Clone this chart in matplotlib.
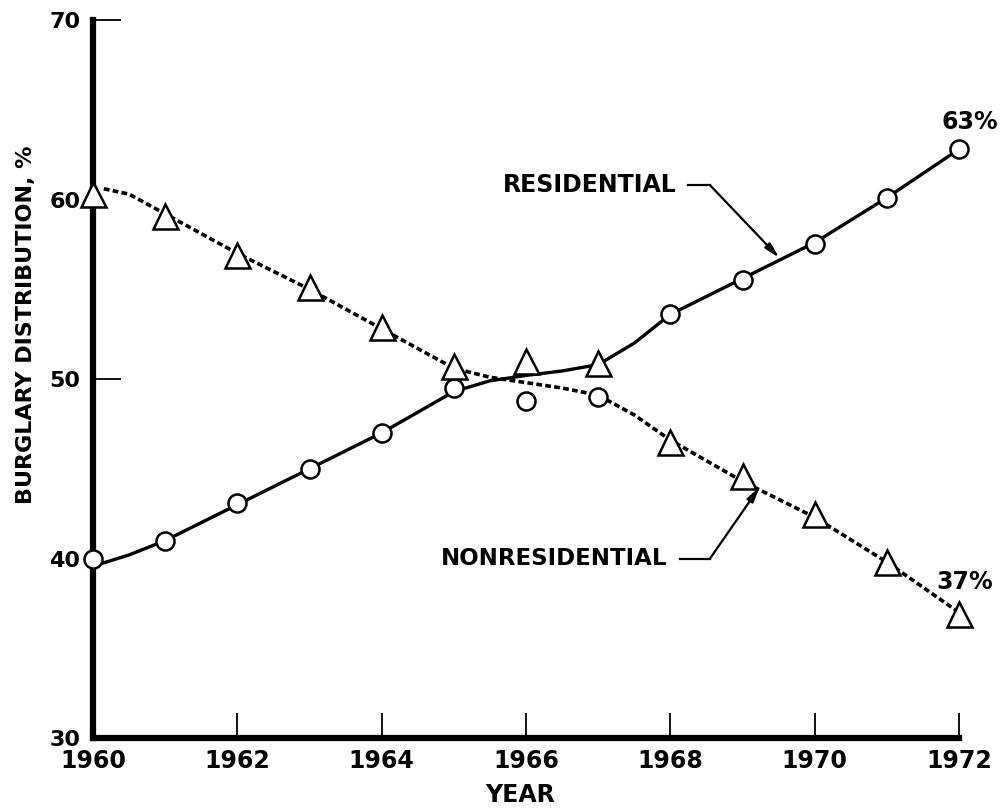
import numpy as np
import matplotlib.pyplot as plt

# marker values
years = np.arange(1960, 1973)
residential = [40.0, 41.0, 43.1, 45.0, 47.0, 49.5, 48.8, 49.0, 53.6, 55.5, 57.5, 60.1, 62.8]
nonresidential = [60.3, 59.1, 56.9, 55.1, 52.9, 50.7, 51.0, 50.9, 46.5, 44.6, 42.5, 39.8, 36.9]

# hand drawn trend curves
res_curve_x = [1960.1, 1960.5, 1961, 1962, 1963, 1964, 1965, 1965.5, 1966, 1966.5, 1967, 1967.5, 1968, 1969, 1970, 1971, 1972]
res_curve_y = [39.7, 40.2, 41.0, 43.0, 45.0, 47.0, 49.3, 49.9, 50.2, 50.45, 50.8, 52.0, 53.6, 55.6, 57.6, 60.1, 62.8]
non_curve_x = [1960.15, 1960.5, 1961, 1962, 1963, 1964, 1965, 1965.5, 1966, 1966.5, 1967, 1967.5, 1968, 1969, 1970, 1971, 1972]
non_curve_y = [60.6, 60.3, 59.2, 57.0, 55.0, 52.8, 50.6, 50.1, 49.8, 49.5, 49.1, 48.0, 46.6, 44.3, 42.3, 39.8, 37.0]

xticks = [1960, 1962, 1964, 1966, 1968, 1970, 1972]
yticks = [30, 40, 50, 60, 70]

font = ['DejaVu Sans']

fig = plt.figure(figsize=(10, 8.08), dpi=100)
ax = fig.add_axes([0.093, 0.0866, 0.866, 0.8886])

ax.plot(res_curve_x, res_curve_y, color='black', lw=2.4, solid_capstyle='round', zorder=3)
ax.plot(non_curve_x, non_curve_y, color='black', lw=2.6, linestyle=(0, (1.6, 0.9)), zorder=3)

ax.plot(years, residential, 'o', ms=13, mfc='white', mec='black', mew=1.8,
        clip_on=False, zorder=5)
ax.plot(years, nonresidential, '^', ms=18, mfc='white', mec='black', mew=1.8,
        clip_on=False, zorder=5)

ax.set_xlim(1960, 1972)
ax.set_ylim(30, 70)

for s in ['top', 'right']:
    ax.spines[s].set_visible(False)
ax.spines['left'].set_linewidth(4.5)
ax.spines['bottom'].set_linewidth(4.5)

ax.set_xticks(xticks)
ax.set_yticks(yticks)
ax.tick_params(axis='x', direction='in', length=18, width=1.3, pad=8)
ax.tick_params(axis='y', direction='in', length=20, width=1.3, pad=9)
# no tick marks drawn at 40 and 60 in the original
for t in ax.yaxis.get_major_ticks()[1::2]:
    t.tick1line.set_visible(False)
for lab in ax.get_xticklabels():
    lab.set_family(font)
    lab.set_fontweight('bold')
    lab.set_fontsize(17)
for lab in ax.get_yticklabels():
    lab.set_family(font)
    lab.set_fontweight('bold')
    lab.set_fontsize(16)

fig.text(0.026, 1 - 325 / 808, 'BURGLARY DISTRIBUTION, %', rotation=90,
         ha='center', va='center', fontsize=16, fontweight='bold', family=font)
fig.text(0.52, 1 - 795 / 808, 'YEAR', ha='center', va='center',
         fontsize=17, fontweight='bold', family=font)

# labels with leader arrows
ax.text(1968.09, 60.8, 'RESIDENTIAL', ha='right', va='center', fontsize=17,
        fontweight='bold', family=font)
ax.plot([1968.25, 1968.55], [60.8, 60.8], color='black', lw=1.6)
ax.annotate('', xy=(1969.51, 56.75), xytext=(1968.55, 60.8),
            arrowprops=dict(arrowstyle='-|>,head_length=0.9,head_width=0.22',
                            color='black', lw=1.6, shrinkA=0, shrinkB=0))

ax.text(1967.96, 40.0, 'NONRESIDENTIAL', ha='right', va='center', fontsize=16.5,
        fontweight='bold', family=font)
ax.plot([1968.13, 1968.55], [40.0, 40.0], color='black', lw=1.6)
ax.annotate('', xy=(1969.24, 44.0), xytext=(1968.55, 40.0),
            arrowprops=dict(arrowstyle='-|>,head_length=0.9,head_width=0.22',
                            color='black', lw=1.6, shrinkA=0, shrinkB=0))

ax.text(1972.15, 64.3, '63%', ha='center', va='center', fontsize=17,
        fontweight='bold', family=font)
ax.text(1972.08, 38.7, '37%', ha='center', va='center', fontsize=17,
        fontweight='bold', family=font)

fig.savefig('out.png', dpi=100)
